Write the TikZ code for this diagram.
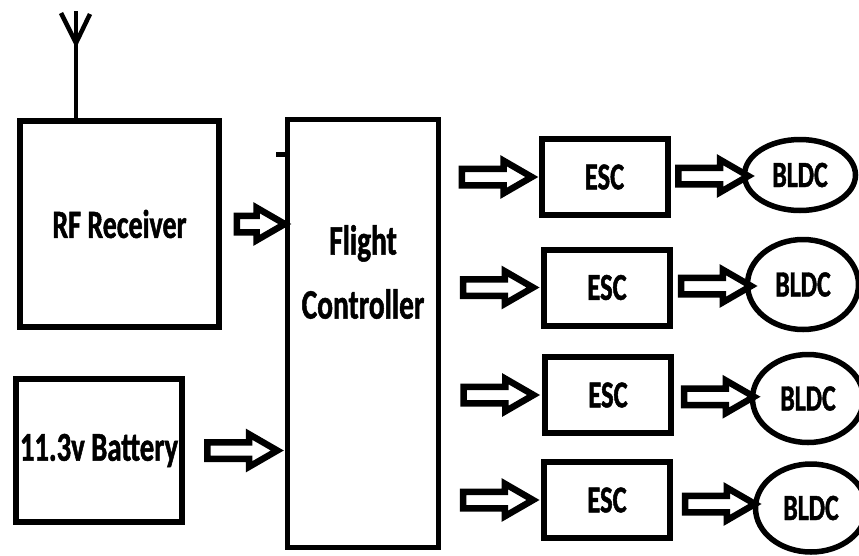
\documentclass[tikz,border=0pt]{standalone}
\usepackage{fontspec}
\newfontfamily\blockfont[FakeStretch=0.70, BoldFeatures={FakeBold=1.2}]{Carlito}
\usetikzlibrary{shapes.geometric, shapes.arrows, calc}

\begin{document}
\begin{tikzpicture}[
  x=1pt, y=-1pt,
  block/.style={
    rectangle,
    draw=black,
    line width=6pt,
    align=center,
    inner sep=0pt,
    font=\blockfont\bfseries\fontsize{40pt}{64pt}\selectfont
  },
  esc/.style={
    block,
    minimum width=126pt,
    minimum height=76pt,
    font=\blockfont\bfseries\fontsize{38pt}{42pt}\selectfont
  },
  motor/.style={
    ellipse,
    draw=black,
    line width=5.5pt,
    inner sep=0pt,
    minimum width=111pt,
    font=\blockfont\bfseries\fontsize{37pt}{42pt}\selectfont
  },
  fatarrow/.style={
    single arrow,
    draw=black,
    fill=white,
    line width=6.5pt,
    inner sep=5pt,
    single arrow head extend=8pt,
    single arrow tip angle=60,
    minimum height=70pt
  },
  aerial/.style={line width=4.5pt}
]
\useasboundingbox (0,0) rectangle (859,555);

\node[block, minimum width=199pt, minimum height=206pt] (rf) at (119.5,224) {RF Receiver};
\node[block, minimum width=166pt, minimum height=143pt,
  font=\blockfont\bfseries\fontsize{41pt}{46pt}\selectfont] (battery) at (99,450.5) {11.3v Battery};
\node[block, line width=4.5pt, minimum width=151pt, minimum height=428pt] (fc) at (363,333.5) {};
\node[align=center, inner sep=0pt,
  font=\blockfont\bfseries\fontsize{42pt}{64pt}\selectfont] (fclabel) at ([yshift=61.5pt]fc.center) {Flight\\Controller};

\node[esc] (esc1) at (604.5,177) {ESC};
\node[esc] (esc2) at (607,287.5) {ESC};
\node[esc] (esc3) at (608,395) {ESC};
\node[esc] (esc4) at (607,500) {ESC};

\node[motor, minimum height=71pt] (motor1) at (800,175) {BLDC};
\node[motor, minimum height=90pt] (motor2) at (803,284.5) {BLDC};
\node[motor, minimum height=88pt] (motor3) at (808,398.5) {BLDC};
\node[motor, minimum height=88pt] (motor4) at (811,508) {BLDC};

% antenna on top of the receiver
\coordinate (antenna) at ([xshift=59pt]rf.north west);
\coordinate (apex) at ([yshift=75pt]antenna);
\draw[aerial] (antenna) -- ([yshift=107pt]antenna);
\draw[aerial] ($(apex)+(-15,-30)$) -- (apex) -- ($(apex)+(14,-29)$);

% small mark on the controller
\draw[line width=5pt] ([xshift=4pt, yshift=-37pt]fc.north west) -- ++(-13,0);

\path (rf.east) -- node[fatarrow, minimum height=48pt] (rfarrow) {} (rf.east -| fc.west);
\path (battery.east) -- node[fatarrow] (batteryarrow) {} (battery.east -| fc.west);
\foreach \i in {1,...,4} {
  \path (fc.east |- esc\i.west) -- node[fatarrow] (fcarrow\i) {} (esc\i.west);
  \path (esc\i.east) -- node[fatarrow] (escarrow\i) {} (motor\i.west);
}

\end{tikzpicture}
\end{document}
